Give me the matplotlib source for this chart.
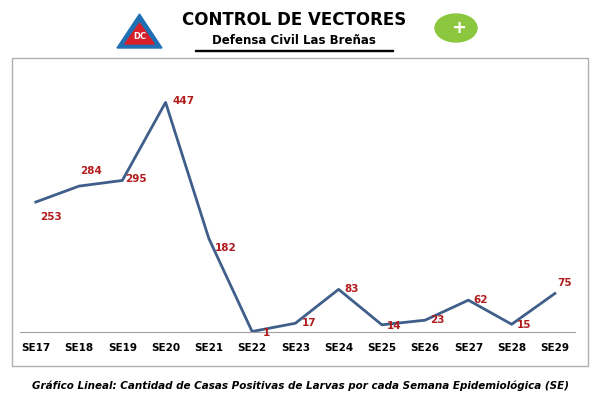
import matplotlib
matplotlib.use("Agg")
import matplotlib.pyplot as plt
from matplotlib.patches import Rectangle, Polygon, Circle

WEEKS = ["SE17", "SE18", "SE19", "SE20", "SE21", "SE22", "SE23",
         "SE24", "SE25", "SE26", "SE27", "SE28", "SE29"]
CASES = [253, 284, 295, 447, 182, 1, 17, 83, 14, 23, 62, 15, 75]
# label offsets in pixels (dx, dy)
OFFS = [(15, -15), (12, 15), (14, 1), (18, 1), (17, -9), (14, -2), (14, 0),
        (13, 0), (12, -1), (12, 0), (12, 0), (12, -1), (10, 10)]

fig = plt.figure(figsize=(6, 4), dpi=100)
fig.patch.set_facecolor("white")

fig.text(0.49, 0.95, "CONTROL DE VECTORES", ha="center", va="center",
         fontsize=12, fontweight="bold")
fig.text(0.49, 0.9, "Defensa Civil Las Breñas", ha="center", va="center",
         fontsize=8.5, fontweight="bold")
fig.add_artist(Rectangle((0.325, 0.873), 0.33, 0.003, transform=fig.transFigure,
                         color="black"))

# logos (simple approximations)
fig.add_artist(Polygon([(0.195, 0.88), (0.27, 0.88), (0.2325, 0.965)],
                       transform=fig.transFigure, color="#1f6fb5"))
fig.add_artist(Polygon([(0.208, 0.89), (0.257, 0.89), (0.2325, 0.942)],
                       transform=fig.transFigure, color="#d8202a"))
fig.text(0.2325, 0.908, "DC", ha="center", va="center", fontsize=6,
         color="white", fontweight="bold")
fig.add_artist(Circle((0.76, 0.93), 0.035, transform=fig.transFigure,
                      color="#8cc63f"))
fig.text(0.765, 0.93, "+", ha="center", va="center", fontsize=13,
         color="white", fontweight="bold")

# frame
fig.add_artist(Rectangle((0.02, 0.085), 0.96, 0.77, transform=fig.transFigure,
                         fill=False, edgecolor="#b0b0b0", linewidth=1))

ax = fig.add_axes([0.033, 0.17, 0.925, 0.655])
x = range(len(WEEKS))
ax.plot(x, CASES, color="#3f5f8a", linewidth=2)
for xi, v, (dx, dy) in zip(x, CASES, OFFS):
    ax.annotate(str(v), (xi, v), xytext=(dx, dy), textcoords="offset pixels",
                ha="center", va="center", fontsize=7.5, fontweight="bold",
                color="#b01c1c")
ax.set_xlim(-0.37, 12.46)
ax.set_ylim(0, 510)
ax.set_xticks(list(x))
ax.set_xticklabels(WEEKS, fontsize=7.5, fontweight="bold")
ax.tick_params(axis="x", length=0, pad=8)
ax.set_yticks([])
for s in ["top", "right", "left"]:
    ax.spines[s].set_visible(False)
ax.spines["bottom"].set_color("#a0a0a0")

fig.text(0.5, 0.035,
         "Gráfico Lineal: Cantidad de Casas Positivas de Larvas por cada Semana Epidemiológica (SE)",
         ha="center", va="center", fontsize=7.5, fontweight="bold", style="italic")

fig.savefig("out.png", dpi=100)
